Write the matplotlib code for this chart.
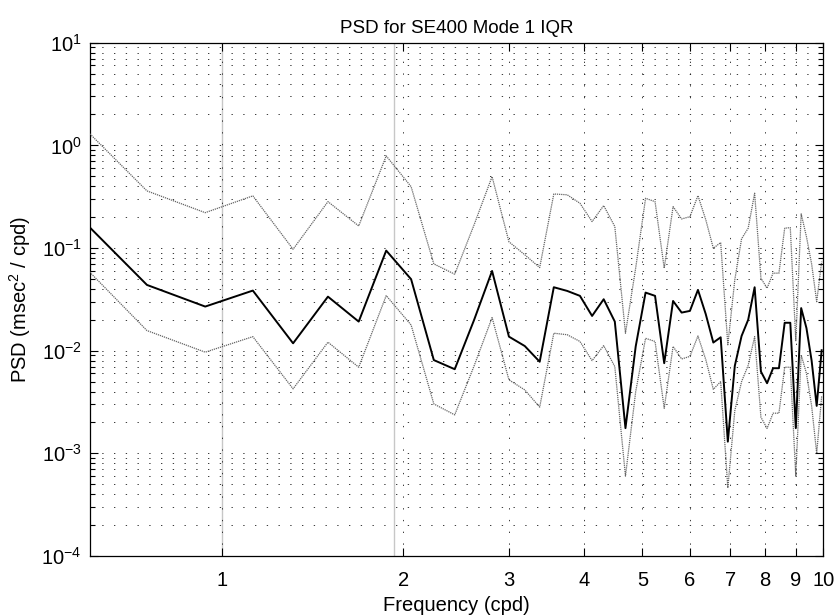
import matplotlib
matplotlib.use("Agg")
import matplotlib.pyplot as plt
from matplotlib.ticker import LogLocator, NullLocator, FixedLocator, FixedFormatter, LogFormatterMathtext

plt.rcParams['font.family'] = ['Liberation Sans', 'DejaVu Sans']
plt.rcParams['mathtext.fontset'] = 'custom'
plt.rcParams['mathtext.rm'] = 'Liberation Sans'
plt.rcParams['mathtext.it'] = 'Liberation Sans:italic'
plt.rcParams['mathtext.bf'] = 'Liberation Sans:bold'

# Frequencies (cpd)
freq = [0.5625, 0.75, 0.9375, 1.125, 1.3125, 1.5, 1.6875, 1.875, 2.0625, 2.25,
        2.4375, 2.625, 2.8125, 3.0, 3.1875, 3.375, 3.5625, 3.75, 3.9375, 4.125,
        4.3125, 4.5, 4.6875, 4.875, 5.0625, 5.25, 5.4375, 5.625, 5.8125, 6.0,
        6.1875, 6.375, 6.5625, 6.75, 6.9375, 7.125, 7.3125, 7.5, 7.6875, 7.875,
        8.0625, 8.25, 8.4375, 8.625, 8.8125, 9.0, 9.1875, 9.375, 9.5625, 9.75,
        9.9375]

psd = [0.238, 0.0437, 0.0269, 0.0385, 0.0118, 0.0336, 0.0192, 0.0944, 0.0497, 0.0081,
       0.0066, 0.0199, 0.0598, 0.0137, 0.0111, 0.0078, 0.0415, 0.0382, 0.0342, 0.0218,
       0.0317, 0.0192, 0.00176, 0.011, 0.0368, 0.0342, 0.00755, 0.0305, 0.0235, 0.0244,
       0.0391, 0.0227, 0.012, 0.0135, 0.0013, 0.0071, 0.0139, 0.02, 0.0415, 0.00626,
       0.00482, 0.00675, 0.00675, 0.0187, 0.0187, 0.00176, 0.026, 0.0166, 0.008, 0.0029,
       0.0101]

psd_upper = [1.94, 0.36, 0.221, 0.322, 0.0973, 0.283, 0.164, 0.789, 0.396, 0.070,
             0.0556, 0.168, 0.496, 0.115, 0.086, 0.0645, 0.336, 0.33, 0.273, 0.181,
             0.259, 0.162, 0.0148, 0.064, 0.305, 0.283, 0.0636, 0.253, 0.192, 0.202,
             0.324, 0.189, 0.0995, 0.113, 0.0114, 0.049, 0.123, 0.156, 0.342, 0.0508,
             0.0406, 0.0569, 0.0569, 0.156, 0.158, 0.0125, 0.215, 0.129, 0.07, 0.030,
             0.0737]

psd_lower = [0.0877, 0.0157, 0.00967, 0.0137, 0.00425, 0.0121, 0.0069, 0.0344, 0.0178, 0.00303,
             0.00237, 0.0071, 0.021, 0.0052, 0.00415, 0.00282, 0.0148, 0.0143, 0.0123, 0.0080,
             0.0112, 0.007, 0.0006, 0.004, 0.0132, 0.0123, 0.00275, 0.011, 0.0083, 0.0088,
             0.0139, 0.0082, 0.0042, 0.005, 0.00046, 0.0026, 0.0050, 0.0072, 0.0137, 0.00225,
             0.00175, 0.00246, 0.00246, 0.0069, 0.0069, 0.0006, 0.0091, 0.006, 0.0029, 0.001,
             0.0036]

xticks = [1, 2, 3, 4, 5, 6, 7, 8, 9, 10]
xticklabels = ['1', '2', '3', '4', '5', '6', '7', '8', '9', '10']
tidal_lines = [1.0, 1.93]

fig = plt.figure(figsize=(8.37, 6.16), dpi=100)
ax = fig.add_axes([90/837, 1-556/616, (823.3-90)/837, (556-42.7)/616])
ax.set_xscale('log')
ax.set_yscale('log')
ax.set_xlim(0.603, 10)
ax.set_ylim(1e-4, 1e1)

dot = (0, (1.6, 12.5))
ax.xaxis.set_major_locator(FixedLocator(xticks))
ax.xaxis.set_major_formatter(FixedFormatter(xticklabels))
ax.xaxis.set_minor_locator(NullLocator())
ax.yaxis.set_major_locator(LogLocator(base=10, numticks=20))
ax.yaxis.set_minor_locator(LogLocator(base=10, subs=range(2, 10), numticks=20))
ax.yaxis.set_major_formatter(LogFormatterMathtext())

for t in tidal_lines:
    ax.axvline(t, color='0.78', lw=1.0, zorder=1)

ax.grid(True, which='major', axis='x', color='0.1', linestyle=dot, lw=0.6, zorder=1.5)
ax.grid(True, which='both', axis='y', color='0.1', linestyle=dot, lw=0.6, zorder=1.5)

ax.plot(freq, psd_upper, color='0.4', lw=0.9, linestyle=(0, (1, 0.7)), zorder=3)
ax.plot(freq, psd_lower, color='0.4', lw=0.9, linestyle=(0, (1, 0.7)), zorder=3)
ax.plot(freq, psd, color='black', lw=1.4, zorder=4)

ax.tick_params(which='both', direction='in', top=True, right=True, labelsize=14.5, width=0.8)
ax.tick_params(which='major', length=6)
ax.tick_params(which='minor', length=3.5)
ax.tick_params(axis='x', pad=11)
ax.tick_params(axis='y', pad=6)
for s in ax.spines.values():
    s.set_linewidth(0.9)

ax.set_title('PSD for SE400 Mode 1 IQR', fontsize=13.5, pad=7)
ax.set_xlabel('Frequency (cpd)', fontsize=14.5, labelpad=4)
ax.set_ylabel(r'PSD (msec$^2$ / cpd)', fontsize=14.5, labelpad=6)

fig.savefig('out.png', dpi=100)
